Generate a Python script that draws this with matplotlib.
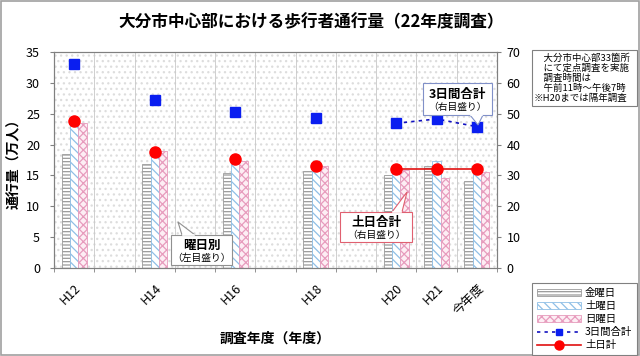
import matplotlib
matplotlib.use("Agg")
import matplotlib.pyplot as plt
import matplotlib.transforms as mtransforms
import numpy as np
from matplotlib.patches import Rectangle, Polygon, Patch
from matplotlib.lines import Line2D

plt.rcParams['font.family'] = ['Noto Sans CJK JP', 'DejaVu Sans']
plt.rcParams['hatch.linewidth'] = 0.9

categories = ['H12', 'H13', 'H14', 'H15', 'H16', 'H17', 'H18', 'H19', 'H20', 'H21', '今年度']
tick_labels = ['H12', '', 'H14', '', 'H16', '', 'H18', '', 'H20', 'H21', '今年度']
nan = np.nan
fri = [18.5, nan, 16.9, nan, 15.35, nan, 15.7, nan, 15.1, 16.55, 14.1]
sat = [23.1, nan, 18.2, nan, 17.1, nan, 16.4, nan, 16.0, 17.4, 15.7]
sun = [23.5, nan, 18.9, nan, 17.4, nan, 16.55, nan, 15.8, 14.65, 15.6]
total3 = [66.0, nan, 54.3, nan, 50.4, nan, 48.5, nan, 46.9, 48.3, 45.8]
weekend = [47.5, nan, 37.5, nan, 35.2, nan, 33.0, nan, 32.0, 32.0, 32.0]

W, H = 640, 356
fig = plt.figure(figsize=(W / 100, H / 100), dpi=100)

def fx(px):
    return px / W

def fy(py):
    return 1 - py / H

# figure frame
fig.add_artist(Rectangle((0.001, 0.002), 0.997, 0.995, transform=fig.transFigure,
                         fill=False, edgecolor='#a0a0a0', lw=1.2))

ax = fig.add_axes([fx(54), fy(268), fx(497) - fx(54), fy(52) - fy(268)])
ax2 = ax.twinx()

x = np.arange(len(categories))
bw = 0.205

# dotted background
ax.add_patch(Rectangle((0, 0), 1, 1, transform=ax.transAxes, facecolor='white',
                       edgecolor='#dddddd', hatch='...', lw=0, zorder=0))

c_fri = '#9a9a9a'
c_sat = '#8fbfe6'
c_sun = '#e79cbd'
ax.bar(x - bw, fri, bw, facecolor='white', edgecolor=c_fri, hatch='-----', lw=0.6, zorder=2)
ax.bar(x, sat, bw, facecolor='white', edgecolor=c_sat, hatch='\\\\\\\\', lw=0.6, zorder=2)
ax.bar(x + bw, sun, bw, facecolor='#fdeef4', edgecolor=c_sun, hatch='xxxx', lw=0.6, zorder=2)

ax.set_xlim(-0.5, len(categories) - 0.5)
ax.set_ylim(0, 35)
ax.set_yticks(np.arange(0, 36, 5))
ax2.set_ylim(0, 70)
ax2.set_yticks(np.arange(0, 71, 10))

ax.set_xticks(x)
ax.set_xticklabels(tick_labels, rotation=45, ha='right', va='top', rotation_mode='anchor', fontsize=9)
offset = mtransforms.ScaledTranslation(-10 / 100, -1 / 100, fig.dpi_scale_trans)
for lab in ax.get_xticklabels():
    lab.set_transform(lab.get_transform() + offset)
ax.set_xticks(np.arange(-0.5, len(categories), 1), minor=True)
ax.tick_params(axis='x', which='major', length=0, pad=10)
ax.tick_params(axis='x', which='minor', length=3, color='#808080')
ax.grid(axis='x', which='minor', color='#c8c8c8', lw=0.6, zorder=1)
ax.set_axisbelow(True)

ax.tick_params(axis='y', labelsize=9, length=3, color='#808080', pad=7)
ax2.tick_params(axis='y', labelsize=9, length=3, color='#808080', pad=4)

for a in (ax, ax2):
    for s in a.spines.values():
        s.set_color('#808080')
        s.set_linewidth(0.8)

ax2.plot(x, total3, color='#1010c0', ls=(0, (2, 2.5)), lw=1.2, marker='s', ms=7.5,
         markerfacecolor='#0a1ef0', markeredgecolor='#0a1ef0', zorder=5)
ax2.plot(x, weekend, color='#e01010', ls='-', lw=1.2, marker='o', ms=8,
         markerfacecolor='#ff0000', markeredgecolor='#ff0000', zorder=5)

ax.set_ylabel('通行量（万人）', fontsize=10, fontweight='bold')
ax.yaxis.set_label_coords(-0.074, 0.5)
fig.text(fx(275), fy(339), '調査年度（年度）', ha='center', va='center', fontsize=10, fontweight='bold')
fig.text(fx(311), fy(22), '大分市中心部における歩行者通行量（22年度調査）', ha='center', va='center',
         fontsize=12, fontweight='bold')

# note box
fig.add_artist(Rectangle((fx(532), fy(106)), fx(637) - fx(532), fy(50) - fy(106), transform=fig.transFigure,
                         facecolor='white', edgecolor='#808080', lw=0.8))
note = '　大分市中心部33箇所\n　にて定点調査を実施\n　調査時間は\n　午前11時～午後7時\n※H20までは隔年調査'
fig.text(fx(534), fy(78), note, ha='left', va='center', fontsize=6.8, linespacing=1.12)

# callouts
def callout(x0, y0, x1, y1, tail, ec, title, sub):
    fig.add_artist(Rectangle((fx(x0), fy(y1)), fx(x1) - fx(x0), fy(y0) - fy(y1), transform=fig.transFigure,
                             facecolor='white', edgecolor=ec, lw=0.8, zorder=10))
    pts = [(fx(px), fy(py)) for px, py in tail]
    fig.add_artist(Polygon(pts, closed=False, transform=fig.transFigure, facecolor='white',
                           edgecolor=ec, lw=0.8, zorder=11))
    (bx0, by0), _, (bx1, by1) = tail
    fig.add_artist(Line2D([fx(bx0) + 0.001, fx(bx1) - 0.001], [fy(by0), fy(by1)], transform=fig.transFigure,
                          color='white', lw=1.2, zorder=12))
    cx = (x0 + x1) / 2
    fig.text(fx(cx), fy(y0 + (y1 - y0) * 0.36), title, ha='center', va='center', fontsize=9,
             fontweight='bold', zorder=13)
    fig.text(fx(cx), fy(y0 + (y1 - y0) * 0.76), sub, ha='center', va='center', fontsize=7, zorder=13)

callout(171, 235, 232, 265, [(182, 235), (178, 222), (195, 235)], '#909090', '曜日別', '（左目盛り）')
callout(340, 212, 412, 242, [(392, 212), (407, 192), (402, 212)], '#e06070', '土日合計', '（右目盛り）')
callout(423, 83, 492, 115, [(470, 115), (478, 125), (483, 115)], '#8090c8', '3日間合計', '（右目盛り）')

handles = [
    Patch(facecolor='white', edgecolor=c_fri, hatch='-----', lw=0.6),
    Patch(facecolor='white', edgecolor=c_sat, hatch='\\\\\\\\', lw=0.6),
    Patch(facecolor='#fdeef4', edgecolor=c_sun, hatch='xxxx', lw=0.6),
    Line2D([], [], color='#1010c0', ls=(0, (2, 2.5)), lw=1.2, marker='s', ms=5,
           markerfacecolor='#0a1ef0', markeredgecolor='#0a1ef0'),
    Line2D([], [], color='#e01010', lw=1.2, marker='o', ms=6.5, markerfacecolor='#ff0000',
           markeredgecolor='#ff0000'),
]
labels = ['金曜日', '土曜日', '日曜日', '3日間合計', '土日計']
leg = fig.legend(handles, labels, loc='lower right', bbox_to_anchor=(fx(637), fy(355)),
                 fontsize=7.5, frameon=True, fancybox=False, edgecolor='#808080', framealpha=1,
                 handlelength=4.2, handleheight=0.7, labelspacing=0.3, borderpad=0.45,
                 handletextpad=0.4, borderaxespad=0)
leg.get_frame().set_linewidth(0.8)

fig.savefig('out.png', dpi=100)
